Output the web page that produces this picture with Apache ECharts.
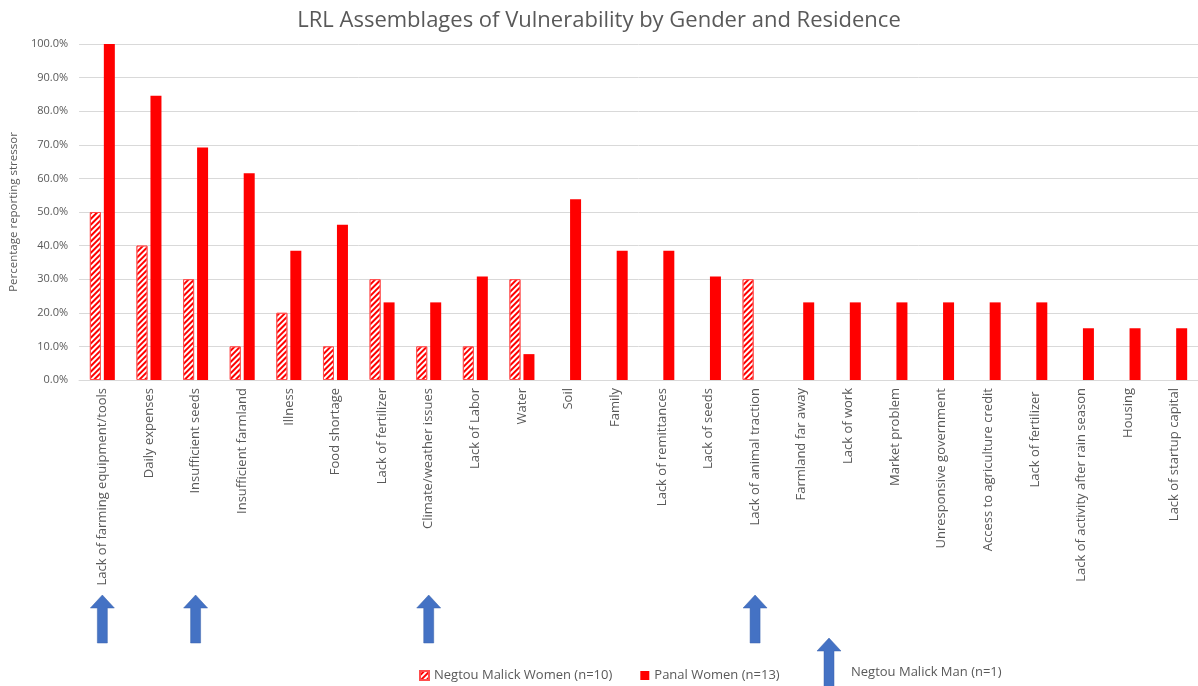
<!DOCTYPE html>
<html>
<head>
<meta charset="utf-8">
<script src="https://cdn.jsdelivr.net/npm/echarts@6/dist/echarts.min.js"></script>
<style>
  html, body { margin: 0; padding: 0; background: #fff; }
  #chart { width: 1198px; height: 686px; }
</style>
</head>
<body>
<div id="chart"></div>
<script>
// Stressors reported, in display order
const categories = [
  'Lack of farming equipment/tools', 'Daily expenses', 'Insufficient seeds',
  'Insufficient farmland', 'Illness', 'Food shortage', 'Lack of fertilizer',
  'Climate/weather issues', 'Lack of Labor', 'Water', 'Soil', 'Family',
  'Lack of remittances', 'Lack of seeds', 'Lack of animal traction',
  'Farmland far away', 'Lack of work', 'Market problem',
  'Unresponsive government', 'Access to agriculture credit',
  'Lack of fertilizer ', 'Lack of activity after rain season', 'Housing',
  'Lack of startup capital'
];

// Percentage of each group reporting the stressor
const negtouWomen = [50, 40, 30, 10, 20, 10, 30, 10, 10, 30, 0, 0, 0, 0, 30, 0, 0, 0, 0, 0, 0, 0, 0, 0];
const panalWomen = [100, 84.6, 69.2, 61.5, 38.5, 46.2, 23.1, 23.1, 30.8, 7.7, 53.8, 38.5, 38.5, 30.8, 0, 23.1, 23.1, 23.1, 23.1, 23.1, 23.1, 15.4, 15.4, 15.4];

// Stressors named by the single Negtou Malick man (marked with arrows)
const negtouMan = ['Lack of farming equipment/tools', 'Insufficient seeds', 'Climate/weather issues', 'Lack of animal traction'];

const seriesNames = ['Negtou Malick Women (n=10)', 'Panal Women (n=13)'];
const manLabel = 'Negtou Malick Man (n=1)';

const yTicks = { min: 0, max: 100, interval: 10 };

const FONT = '"Open Sans", sans-serif';
const GREY = '#595959';
const RED = '#ff0000';
const BLUE = '#4472c4';

// Zero-valued stressors get no bar at all
const asBars = arr => arr.map(v => (v === 0 ? null : v));

const hatch = {
  symbol: 'rect',
  symbolSize: 1,
  dashArrayX: [[1, 0]],
  dashArrayY: [2, 2],
  rotation: -Math.PI / 4,
  color: '#ffffff'
};

const chart = echarts.init(document.getElementById('chart'), null, { renderer: 'canvas' });

const option = {
  backgroundColor: '#ffffff',
  animation: false,
  textStyle: { fontFamily: FONT },
  title: {
    text: 'LRL Assemblages of Vulnerability by Gender and Residence',
    left: 'center',
    top: 5,
    textStyle: { fontFamily: FONT, fontSize: 22, fontWeight: 'normal', color: GREY }
  },
  legend: {
    left: 414,
    top: 664,
    itemWidth: 9,
    itemHeight: 9,
    itemGap: 28,
    textStyle: { fontFamily: FONT, fontSize: 13, color: GREY },
    data: [
      { name: seriesNames[0], icon: 'rect' },
      { name: seriesNames[1], icon: 'rect' }
    ]
  },
  grid: { left: 79, right: -7, top: 44, bottom: 306, containLabel: false },
  xAxis: {
    type: 'category',
    data: categories,
    axisLine: { lineStyle: { color: '#d9d9d9' } },
    axisTick: { show: false },
    axisLabel: {
      interval: 0,
      rotate: 90,
      margin: 8,
      fontFamily: FONT,
      fontSize: 13,
      color: GREY
    }
  },
  yAxis: {
    type: 'value',
    min: yTicks.min,
    max: yTicks.max,
    interval: yTicks.interval,
    name: 'Percentage reporting stressor',
    nameLocation: 'middle',
    nameGap: 55,
    nameTextStyle: { fontFamily: FONT, fontSize: 11.5, color: GREY },
    axisLine: { show: false },
    axisTick: { show: false },
    splitLine: { lineStyle: { color: '#d9d9d9' } },
    axisLabel: {
      margin: 11,
      fontFamily: FONT,
      fontSize: 11,
      color: GREY,
      formatter: v => v.toFixed(1) + '%'
    }
  },
  series: [
    {
      name: seriesNames[0],
      type: 'bar',
      data: asBars(negtouWomen),
      barWidth: 11,
      barGap: '27%',
      itemStyle: { color: RED, borderColor: '#ff4d4d', borderWidth: 1, decal: hatch }
    },
    {
      name: seriesNames[1],
      type: 'bar',
      data: asBars(panalWomen),
      barWidth: 11,
      itemStyle: { color: RED }
    }
  ]
};

chart.setOption(option);

// Block arrow pointing up, with tip at (cx, top)
function arrow(cx, top, bottom) {
  const headW = 12, shaftW = 5, headH = 13;
  return {
    type: 'polygon',
    shape: {
      points: [
        [cx, top], [cx + headW, top + headH], [cx + shaftW, top + headH],
        [cx + shaftW, bottom], [cx - shaftW, bottom], [cx - shaftW, top + headH],
        [cx - headW, top + headH]
      ]
    },
    style: { fill: BLUE, stroke: '#3a63ad', lineWidth: 0.5 }
  };
}

const graphics = negtouMan.map(name => {
  const cx = chart.convertToPixel({ xAxisIndex: 0 }, name);
  return arrow(cx, 595, 643);
});

graphics.push(arrow(829, 638, 700));
graphics.push({
  type: 'text',
  left: 851,
  top: 666,
  style: { text: manLabel, fontFamily: FONT, fontSize: 13, fill: GREY }
});

chart.setOption({ graphic: graphics });
</script>
</body>
</html>
